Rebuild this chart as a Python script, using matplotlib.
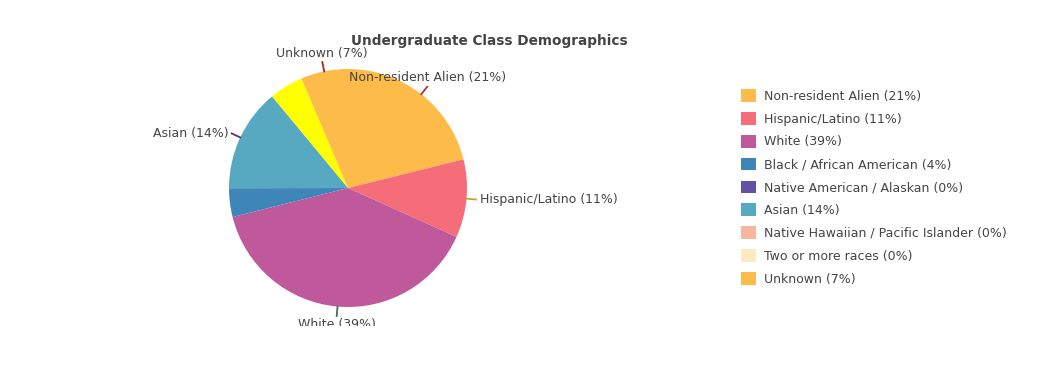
import matplotlib
matplotlib.use("Agg")
import matplotlib.pyplot as plt
from matplotlib.patches import Patch
import numpy as np

# slices in drawing order (clockwise from 12 o'clock)
slice_names = ["Non-resident Alien", "Hispanic/Latino", "White", "Black / African American",
               "Native American / Alaskan", "Asian", "Native Hawaiian / Pacific Islander",
               "Two or more races", "", "Unknown"]
slice_values = [21.1, 10.6, 39.3, 3.9, 0, 14.0, 0, 0, 4.6, 6.4]
slice_colors = ["#fdbb4a", "#f66d7a", "#c0589c", "#3f86b8", "#6453a4", "#57a9c2",
                "#f6b6a0", "#fdeac4", "#ffff00", "#fdbb4a"]
line_colors = ["#a83a2c", "#c9a227", "#4d6b55", None, None, "#5e2f75", None, None, None, "#9b2d2d"]
pie_labels = ["Non-resident Alien (21%)", "Hispanic/Latino (11%)", "White (39%)", "",
              "", "Asian (14%)", "", "", "", "Unknown (7%)"]

legend_labels = ["Non-resident Alien (21%)", "Hispanic/Latino (11%)", "White (39%)",
                 "Black / African American (4%)", "Native American / Alaskan (0%)",
                 "Asian (14%)", "Native Hawaiian / Pacific Islander (0%)",
                 "Two or more races (0%)", "Unknown (7%)"]
legend_colors = ["#fdbb4a", "#f66d7a", "#c0589c", "#3f86b8", "#6453a4", "#57a9c2",
                 "#f6b6a0", "#fdeac4", "#fdbb4a"]

W, H = 1040, 386
fig = plt.figure(figsize=(W / 100, H / 100), dpi=100)

# pie axes, pixel geometry (bottom edge clips the lowest label like the original)
cx, cy, r = 348, 386 - 188, 119
x0, x1, y0, y1 = 130, 660, 60, 372
ax = fig.add_axes([x0 / W, y0 / H, (x1 - x0) / W, (y1 - y0) / H])

ax.pie(slice_values, colors=slice_colors, startangle=90, counterclock=False,
       radius=1.0, wedgeprops=dict(linewidth=0), normalize=True)
ax.set_xlim((x0 - cx) / r, (x1 - cx) / r)
ax.set_ylim((y0 - cy) / r, (y1 - cy) / r)
ax.set_aspect("equal")
ax.axis("off")

total = sum(slice_values)
cum = 0
for v, lab, lc in zip(slice_values, pie_labels, line_colors):
    mid = (cum + v / 2) / total * 2 * np.pi
    cum += v
    if not lab:
        continue
    s, c = np.sin(mid), np.cos(mid)
    ax.plot([s, 1.08 * s], [c, 1.08 * c], color=lc, lw=1.3, clip_on=True)
    if s > 0.7:
        ha, va, tx, ty = "left", "center", 1.11 * s, 1.08 * c
    elif s < -0.7:
        ha, va, tx, ty = "right", "center", 1.11 * s, 1.08 * c
    else:
        ha = "center"
        va = "bottom" if c > 0 else "top"
        tx, ty = 1.08 * s, 1.08 * c + (0.02 if c > 0 else -0.02)
    ax.text(tx, ty, lab, ha=ha, va=va, fontsize=9, color="#444444", clip_on=True)

fig.text(489.5 / W, 1 - 41 / H, "Undergraduate Class Demographics", ha="center", va="center",
         fontsize=9.8, fontweight="bold", color="#444444")

handles = [Patch(facecolor=c, edgecolor="none") for c in legend_colors]
leg = fig.legend(handles, legend_labels, loc="upper left", bbox_to_anchor=(741 / W, 1 - 89 / H),
                 frameon=False, fontsize=9, handlelength=1.2, handleheight=1.2,
                 handletextpad=0.6, labelspacing=0.74, borderaxespad=0, borderpad=0)
for t in leg.get_texts():
    t.set_color("#444444")

fig.savefig("out.png", dpi=100)
